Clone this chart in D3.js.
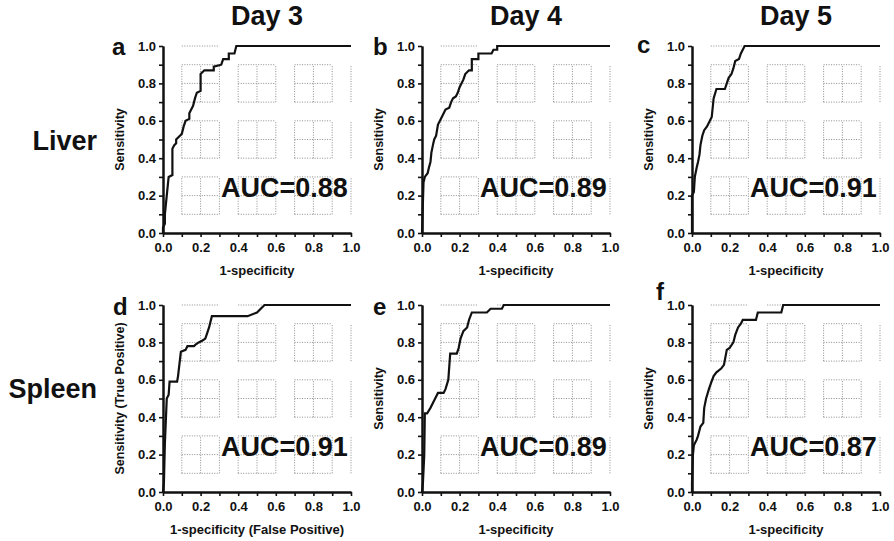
<!DOCTYPE html>
<meta charset="utf-8">
<style>
body { margin: 0; background: #fff; }
text { font-family: 'Liberation Sans', Arial, sans-serif; font-weight: bold; fill: #111; }
.tick text { font-size: 13px; }
.axis path, .axis line { stroke: #111; }
.axis path { stroke-width: 2px; }
.axis line { stroke-width: 1.6px; }
.grid line { stroke: #8c8c8c; stroke-width: 1px; stroke-dasharray: 1,1.5; }
.roc { fill: none; stroke: #111; stroke-width: 2.2px; }
</style>
<body>
<script src="https://d3js.org/d3.v7.min.js"></script>
<script>

const days = ["Day 3", "Day 4", "Day 5"];
const tissues = ["Liver", "Spleen"];
const panelLetters = ["a", "b", "c", "d", "e", "f"];
const aucValues = ["0.88", "0.89", "0.91", "0.91", "0.89", "0.87"];
const xTitles = ["1-specificity", "1-specificity", "1-specificity",
                 "1-specificity (False Positive)", "1-specificity", "1-specificity"];
const yTitles = ["Sensitivity", "Sensitivity", "Sensitivity",
                 "Sensitivity (True Positive)", "Sensitivity", "Sensitivity"];
const majorTicks = [0, 0.2, 0.4, 0.6, 0.8, 1.0];
const minorTicks = [0.1, 0.3, 0.5, 0.7, 0.9];
const gridValues = [0.1, 0.2, 0.3, 0.4, 0.5, 0.6, 0.7, 0.8, 0.9, 1.0];
const gridBlocks = [[0.1, 0.3], [0.4, 0.6], [0.7, 0.9]];

// ROC staircases, [1-specificity, sensitivity]
const rocLiverDay3 = [[0,0],[0,0.03],[0.01,0.05],[0.01,0.1],[0.015,0.15],[0.02,0.2],[0.025,0.25],[0.03,0.3],
  [0.05,0.31],[0.05,0.45],[0.06,0.47],[0.07,0.48],[0.07,0.5],[0.09,0.52],[0.1,0.53],[0.11,0.57],[0.12,0.6],
  [0.14,0.61],[0.14,0.64],[0.15,0.66],[0.16,0.68],[0.17,0.72],[0.18,0.75],[0.2,0.76],[0.2,0.85],[0.22,0.87],
  [0.27,0.87],[0.27,0.89],[0.31,0.9],[0.32,0.93],[0.35,0.93],[0.35,0.96],[0.38,0.96],[0.39,1.0],[1,1]];
const rocLiverDay4 = [[0,0],[0.003,0.1],[0.008,0.27],[0.015,0.3],[0.03,0.32],[0.037,0.35],[0.045,0.38],
  [0.05,0.43],[0.058,0.47],[0.065,0.5],[0.075,0.52],[0.085,0.58],[0.1,0.61],[0.11,0.63],[0.125,0.66],
  [0.145,0.67],[0.155,0.7],[0.165,0.72],[0.18,0.73],[0.19,0.75],[0.2,0.78],[0.22,0.82],[0.23,0.85],
  [0.25,0.87],[0.265,0.87],[0.265,0.93],[0.3,0.93],[0.3,0.96],[0.37,0.96],[0.38,0.98],[0.4,0.98],[0.4,1.0],[1,1]];
const rocLiverDay5 = [[0,0],[0,0.2],[0.01,0.22],[0.015,0.3],[0.025,0.35],[0.032,0.38],[0.04,0.42],[0.045,0.47],
  [0.055,0.52],[0.065,0.55],[0.08,0.57],[0.095,0.6],[0.105,0.62],[0.115,0.72],[0.13,0.77],[0.175,0.77],
  [0.185,0.8],[0.195,0.83],[0.21,0.85],[0.22,0.88],[0.23,0.92],[0.25,0.93],[0.26,0.96],[0.28,1.0],[1,1]];
const rocSpleenDay3 = [[0,0],[0.005,0.05],[0.01,0.26],[0.02,0.5],[0.03,0.52],[0.035,0.59],[0.075,0.59],
  [0.08,0.62],[0.095,0.75],[0.12,0.76],[0.13,0.78],[0.165,0.78],[0.175,0.79],[0.19,0.8],[0.21,0.81],
  [0.225,0.82],[0.235,0.85],[0.245,0.88],[0.25,0.9],[0.26,0.94],[0.45,0.94],[0.5,0.96],[0.52,0.98],
  [0.54,1.0],[1,1]];
const rocSpleenDay4 = [[0,0],[0.005,0.05],[0.012,0.2],[0.015,0.42],[0.027,0.42],[0.045,0.45],[0.06,0.48],
  [0.07,0.5],[0.085,0.53],[0.115,0.53],[0.125,0.55],[0.14,0.6],[0.15,0.74],[0.185,0.74],[0.195,0.77],
  [0.205,0.82],[0.22,0.86],[0.24,0.88],[0.25,0.92],[0.265,0.96],[0.345,0.96],[0.365,0.98],[0.425,0.98],
  [0.435,1.0],[1,1]];
const rocSpleenDay5 = [[0,0],[0,0.05],[0.005,0.2],[0.01,0.25],[0.025,0.28],[0.032,0.3],[0.045,0.35],
  [0.06,0.37],[0.065,0.45],[0.075,0.5],[0.09,0.55],[0.1,0.58],[0.115,0.62],[0.13,0.64],[0.155,0.66],
  [0.17,0.68],[0.185,0.76],[0.2,0.77],[0.22,0.8],[0.23,0.84],[0.245,0.88],[0.26,0.9],[0.27,0.92],
  [0.34,0.92],[0.35,0.96],[0.475,0.96],[0.485,1.0],[1,1]];

const rocCurves = [rocLiverDay3, rocLiverDay4, rocLiverDay5, rocSpleenDay3, rocSpleenDay4, rocSpleenDay5];

const width = 894, height = 541,
      plotW = 188, plotH = 187,
      colLeft = [163, 422, 692],
      rowTop = [46, 305],
      letterPos = [[112, 55], [373, 55], [637, 53], [113, 315], [373, 315], [656, 300]];

const svg = d3.select("body").append("svg")
    .attr("width", width)
    .attr("height", height);

const x = d3.scaleLinear().domain([0, 1]).range([0, plotW]),
      y = d3.scaleLinear().domain([0, 1]).range([plotH, 0]);

const line = d3.line().x(d => x(d[0])).y(d => y(d[1]));

// column and row headers
svg.selectAll(".day")
  .data(days)
  .join("text")
    .attr("class", "day")
    .attr("x", (d, i) => colLeft[i] + plotW / 2 + 10)
    .attr("y", 25)
    .attr("text-anchor", "middle")
    .style("font-size", "27px")
    .text(d => d);

svg.selectAll(".tissue")
  .data(tissues)
  .join("text")
    .attr("class", "tissue")
    .attr("x", 97)
    .attr("y", (d, i) => i == 0 ? 150 : 398)
    .attr("text-anchor", "end")
    .style("font-size", "27px")
    .text(d => d);

rocCurves.forEach((data, i) => {
    const col = i % 3, row = Math.floor(i / 3);
    const g = svg.append("g")
        .attr("transform", `translate(${colLeft[col]},${rowTop[row]})`);

    // broken dotted grid
    const grid = g.append("g").attr("class", "grid");
    gridValues.forEach(v => {
        gridBlocks.forEach(b => {
            grid.append("line")
                .attr("x1", x(v)).attr("x2", x(v))
                .attr("y1", y(b[0])).attr("y2", y(b[1]));
            grid.append("line")
                .attr("x1", x(b[0])).attr("x2", x(b[1]))
                .attr("y1", y(v)).attr("y2", y(v));
        });
    });

    // minor ticks first, then labelled ones
    g.append("g").attr("class", "axis")
        .attr("transform", `translate(0,${plotH})`)
        .call(d3.axisBottom(x).tickValues(minorTicks).tickFormat("").tickSize(4).tickSizeOuter(0));
    g.append("g").attr("class", "axis")
        .call(d3.axisLeft(y).tickValues(minorTicks).tickFormat("").tickSize(4).tickSizeOuter(0));

    g.append("g").attr("class", "axis")
        .attr("transform", `translate(0,${plotH})`)
        .call(d3.axisBottom(x).tickValues(majorTicks).tickFormat(d3.format(".1f")).tickSize(4).tickSizeOuter(0))
        .call(a => a.selectAll("text").attr("dy", "0.95em"));
    g.append("g").attr("class", "axis")
        .call(d3.axisLeft(y).tickValues(majorTicks).tickFormat(d3.format(".1f")).tickSize(4).tickSizeOuter(0));

    g.append("path")
        .datum(data)
        .attr("class", "roc")
        .attr("d", line);

    g.append("text")
        .attr("x", plotW / 2)
        .attr("y", plotH + 42)
        .attr("text-anchor", "middle")
        .style("font-size", "13px")
        .text(xTitles[i]);

    g.append("text")
        .attr("transform", `translate(-39,${plotH / 2}) rotate(-90)`)
        .attr("text-anchor", "middle")
        .style("font-size", "12.5px")
        .text(yTitles[i]);

    g.append("text")
        .attr("x", 58)
        .attr("y", plotH - 36)
        .style("font-size", "27px")
        .text("AUC=" + aucValues[i]);

    svg.append("text")
        .attr("x", letterPos[i][0])
        .attr("y", letterPos[i][1])
        .style("font-size", "24px")
        .text(panelLetters[i]);
});

</script>
